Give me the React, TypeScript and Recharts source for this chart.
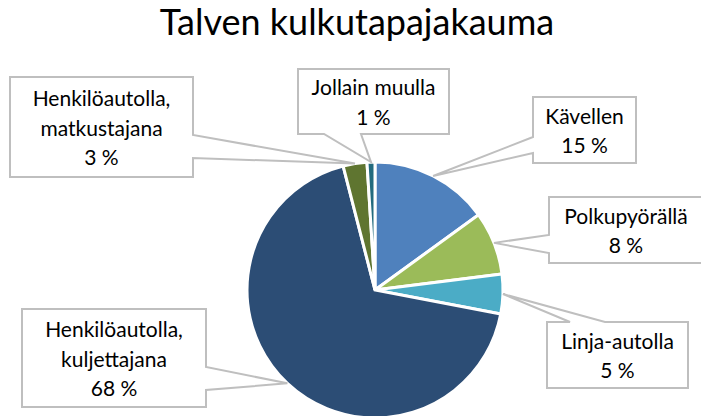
import { Cell, Pie, PieChart } from "recharts";

const categories = [
  "Kävellen",
  "Polkupyörällä",
  "Linja-autolla",
  "Henkilöautolla, kuljettajana",
  "Henkilöautolla, matkustajana",
  "Jollain muulla",
];
const shares = [15, 8, 5, 68, 3, 1];
const colors = ["#4F81BD", "#9BBB59", "#4BACC6", "#2C4D75", "#5F7530", "#236B7E"];

// callout boxes: where Excel put them, and where the pointer leaves the box
type Box = { x: number; y: number; w: number; h: number; side: "l" | "r" | "t" | "b"; a: number; b: number };
const boxes: Box[] = [
  { x: 533, y: 97, w: 103, h: 66, side: "l", a: 137, b: 153 },
  { x: 549, y: 197, w: 154, h: 66, side: "l", a: 235, b: 253 },
  { x: 547, y: 322, w: 141, h: 66, side: "t", a: 570, b: 605 },
  { x: 22, y: 309, w: 184, h: 98, side: "r", a: 367, b: 390 },
  { x: 10, y: 77, w: 183, h: 100, side: "r", a: 135, b: 158 },
  { x: 298, y: 69, w: 151, h: 65, side: "b", a: 324, b: 361 },
];

const data = categories.map((name, i) => ({ name, value: shares[i] }));
const RAD = Math.PI / 180;
const FONT = "Lato, 'Open Sans', sans-serif";

function calloutPath(bx: Box, tx: number, ty: number) {
  const { x, y, w, h, side, a, b } = bx;
  const r = x + w;
  const btm = y + h;
  switch (side) {
    case "l":
      return `M${x},${y}H${r}V${btm}H${x}V${b}L${tx},${ty}L${x},${a}Z`;
    case "r":
      return `M${x},${y}H${r}V${a}L${tx},${ty}L${r},${b}V${btm}H${x}Z`;
    case "t":
      return `M${x},${y}H${a}L${tx},${ty}L${b},${y}H${r}V${btm}H${x}Z`;
    default:
      return `M${x},${y}H${r}V${btm}H${b}L${tx},${ty}L${a},${btm}H${x}Z`;
  }
}

function Callout(props: any) {
  const { cx, cy, midAngle, outerRadius, index, name, value } = props;
  const bx = boxes[index];
  const tx = cx + outerRadius * Math.cos(-midAngle * RAD);
  const ty = cy + outerRadius * Math.sin(-midAngle * RAD);
  const lines = String(name).split(", ").map((s, i, arr) => (i < arr.length - 1 ? s + "," : s));
  lines.push(`${value} %`);
  const step = 29.5;
  const mid = bx.y + bx.h / 2;
  const first = mid - ((lines.length - 1) * step) / 2;
  return (
    <g>
      <path d={calloutPath(bx, tx, ty)} fill="#fff" stroke="#BFBFBF" strokeWidth={2} />
      {lines.map((ln, i) => (
        <text
          key={i}
          x={bx.x + bx.w / 2}
          y={first + i * step}
          textAnchor="middle"
          dominantBaseline="central"
          fontFamily={FONT}
          fontSize={21}
          fill="#000"
        >
          {ln}
        </text>
      ))}
    </g>
  );
}

export default function App() {
  return (
    <div style={{ position: "absolute", left: 0, top: 0, width: 701, height: 416, background: "#fff", overflow: "hidden" }}>
      <div
        style={{
          position: "absolute",
          top: 2,
          left: 0,
          width: 714,
          textAlign: "center",
          fontFamily: FONT,
          fontSize: 36,
          color: "#000",
          lineHeight: "38px",
        }}
      >
        Talven kulkutapajakauma
      </div>
      <PieChart
        width={701}
        height={416}
        margin={{ top: 0, right: 0, bottom: 0, left: 0 }}
        style={{ position: "absolute", left: 0, top: 0 }}
      >
        <Pie
          data={data}
          dataKey="value"
          nameKey="name"
          cx={375}
          cy={290}
          outerRadius={128}
          startAngle={90}
          endAngle={-270}
          stroke="#fff"
          strokeWidth={3}
          label={Callout}
          labelLine={false}
          isAnimationActive={false}
        >
          {data.map((d, i) => (
            <Cell key={d.name} fill={colors[i]} />
          ))}
        </Pie>
      </PieChart>
    </div>
  );
}
